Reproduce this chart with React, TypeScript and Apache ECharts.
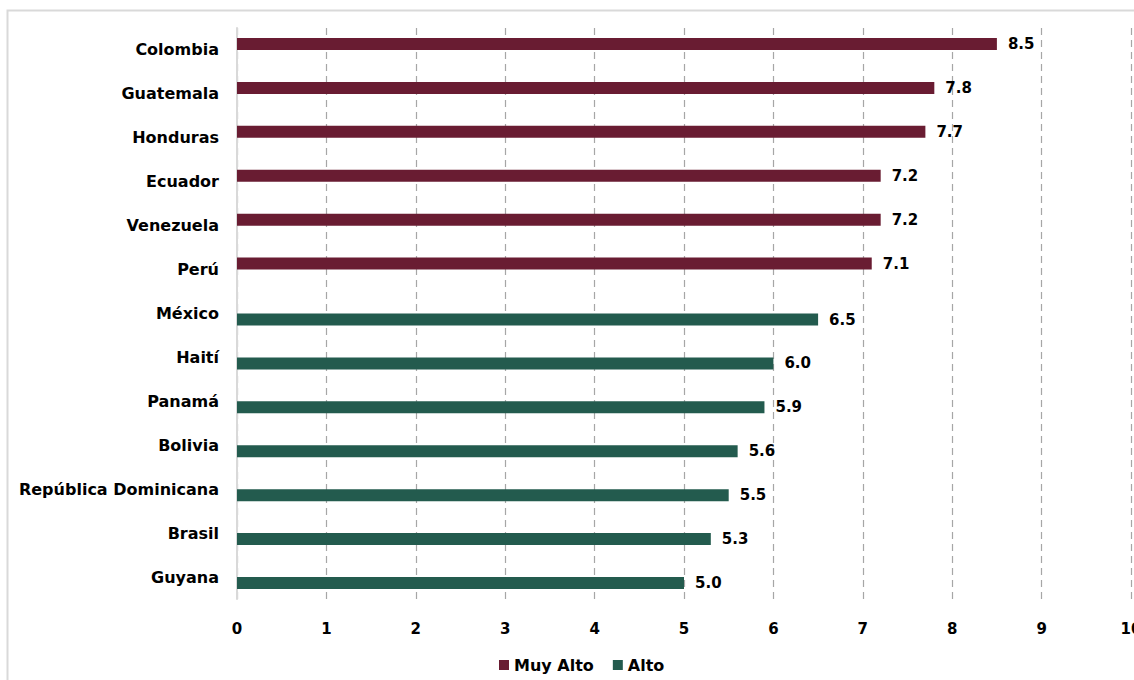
import React, { useEffect, useRef } from "react";
import * as echarts from "echarts";

const categories = [
  "Colombia",
  "Guatemala",
  "Honduras",
  "Ecuador",
  "Venezuela",
  "Perú",
  "México",
  "Haití",
  "Panamá",
  "Bolivia",
  "República Dominicana",
  "Brasil",
  "Guyana",
];

const muyAlto = [8.5, 7.8, 7.7, 7.2, 7.2, 7.1, null, null, null, null, null, null, null];
const alto = [null, null, null, null, null, null, 6.5, 6.0, 5.9, 5.6, 5.5, 5.3, 5.0];

const seriesNames = ["Muy Alto", "Alto"];
const xTicks = { min: 0, max: 10, interval: 1 };

const FONT = "'DejaVu Sans', sans-serif";

export default function App() {
  const ref = useRef<HTMLDivElement>(null);

  useEffect(() => {
    if (!ref.current) return;
    const chart = echarts.init(ref.current, null, { renderer: "svg" });
    const labelStyle = {
      show: true,
      position: "right" as const,
      distance: 11,
      color: "#000",
      fontFamily: FONT,
      fontWeight: "bold" as const,
      fontSize: 15,
      formatter: (p: any) => (p.value == null ? "" : Number(p.value).toFixed(1)),
    };
    chart.setOption({
      animation: false,
      backgroundColor: "#ffffff",
      graphic: [
        {
          type: "rect",
          shape: { x: 7.5, y: 10.5, width: 1200, height: 700 },
          style: { fill: "none", stroke: "#d9d9d9", lineWidth: 2 },
          silent: true,
        },
      ],
      grid: {
        left: 237,
        right: 3,
        top: 28,
        height: 571,
        containLabel: false,
        outerBoundsMode: "none",
      },
      legend: {
        data: seriesNames,
        left: 499,
        top: 657,
        padding: 0,
        itemWidth: 10,
        itemHeight: 10,
        itemGap: 19,
        icon: "rect",
        textStyle: {
          fontFamily: FONT,
          fontWeight: "bold",
          fontSize: 16,
          color: "#000",
          padding: [0, 0, 0, 0],
        },
      },
      xAxis: {
        type: "value",
        min: xTicks.min,
        max: xTicks.max,
        interval: xTicks.interval,
        axisLine: { show: false },
        axisTick: { show: false },
        axisLabel: {
          margin: 22,
          color: "#000",
          fontFamily: FONT,
          fontWeight: "bold",
          fontSize: 15,
        },
        splitLine: { show: true, lineStyle: { color: "#a6a6a6", type: [7, 5], width: 1.2 } },
      },
      yAxis: {
        type: "category",
        data: categories,
        inverse: true,
        axisLine: { show: true, lineStyle: { color: "#d9d9d9", width: 2 } },
        axisTick: { show: false },
        axisLabel: {
          margin: 18,
          color: "#000",
          fontFamily: FONT,
          fontWeight: "bold",
          fontSize: 16,
          padding: [0, 0, 4, 0],
        },
      },
      series: [
        {
          name: seriesNames[0],
          type: "bar",
          data: muyAlto,
          barWidth: 12,
          barGap: "0%",
          itemStyle: { color: "#691c32" },
          label: labelStyle,
        },
        {
          name: seriesNames[1],
          type: "bar",
          data: alto,
          barWidth: 12,
          barGap: "0%",
          itemStyle: { color: "#235b4e" },
          label: labelStyle,
        },
      ],
    });
    return () => chart.dispose();
  }, []);

  return (
    <div
      ref={ref}
      style={{ position: "fixed", left: 0, top: 0, width: 1134, height: 680, background: "#fff" }}
    />
  );
}
